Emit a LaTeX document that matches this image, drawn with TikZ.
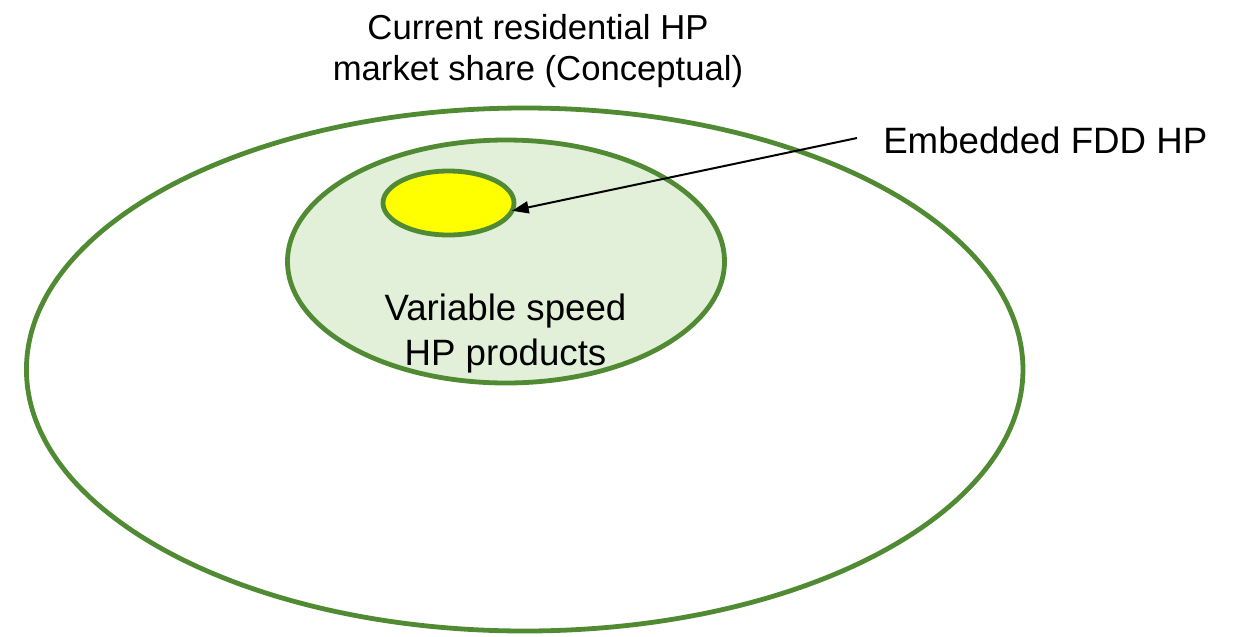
\documentclass[tikz,border=0pt]{standalone}
\usepackage{fontspec}
\setmainfont{Liberation Sans}
\usetikzlibrary{shapes.geometric,arrows.meta}
\definecolor{ringgreen}{RGB}{80,138,50}
\definecolor{softgreen}{RGB}{226,240,217}
\definecolor{fddyellow}{RGB}{255,255,0}
\begin{document}
\begin{tikzpicture}[x=0.75pt,y=-0.75pt,
  ring/.style={ellipse, draw=ringgreen, line width=3.6pt, inner sep=0pt, outer sep=0pt},
  toplabel/.style={font=\fontsize{26}{30.75}\selectfont, align=center, inner sep=0pt},
  midlabel/.style={font=\fontsize{27.5}{33.75}\selectfont, align=center, inner sep=0pt},
  pointer/.style={line width=1.5pt, -{Triangle[length=12.5pt,width=9pt]}}]
\useasboundingbox (0,0) rectangle (1235,636);
% market share rings
\node[ring, minimum width=747.4pt, minimum height=392.25pt] (market) at (524.7,369.5) {};
\node[ring, fill=softgreen, minimum width=327.75pt, minimum height=182.25pt] (varspeed) at (506,261.5) {};
\node[ring, fill=fddyellow, minimum width=98.25pt, minimum height=48pt] (fdd) at (448.5,203) {};
% labels (base anchor sits on the last line)
\node[toplabel, anchor=base] (title) at (538,80) {Current residential HP\\market share (Conceptual)};
\node[midlabel, anchor=base] (vslabel) at (505.5,365) {Variable speed\\HP products};
\node[midlabel, anchor=base west] (fddlabel) at (883,153) {Embedded FDD HP};
% pointer from label to the embedded ring
\coordinate (ptrstart) at (857,138);
\draw[pointer] (ptrstart) -- (fdd.-7);
\end{tikzpicture}
\end{document}
